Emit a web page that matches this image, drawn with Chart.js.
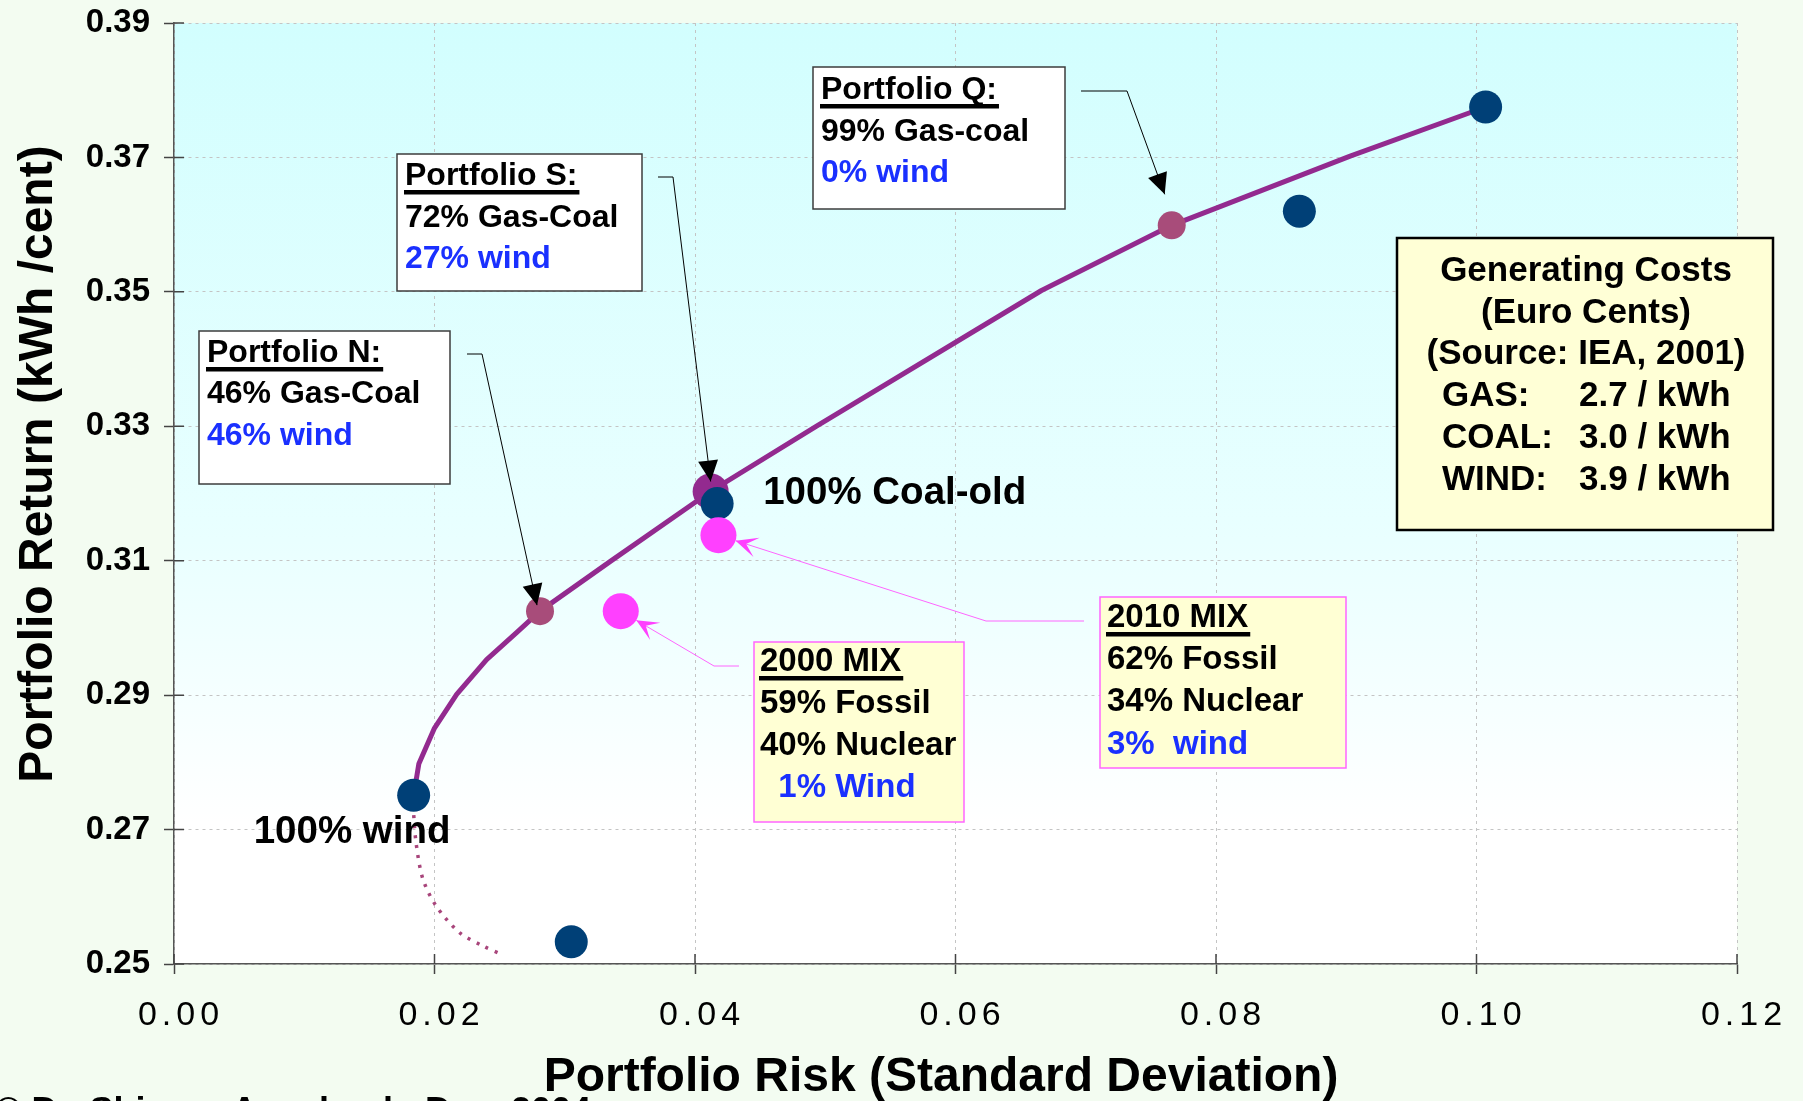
<!DOCTYPE html>
<html>
<head>
<meta charset="utf-8">
<title>Portfolio Risk vs Return</title>
<script src="https://cdn.jsdelivr.net/npm/chart.js@4.4.1/dist/chart.umd.min.js"></script>
<style>
  html, body { margin: 0; padding: 0; background: #f3fcf1; overflow: hidden; }
</style>
</head>
<body>
<canvas id="frontierChart" width="1803" height="1101"></canvas>
<script>
// ===================================
//   PORTFOLIO RISK / RETURN CHART
//   data
// ===================================

const riskTicks = [0, 0.02, 0.04, 0.06, 0.08, 0.10, 0.12];
const returnTicks = [0.25, 0.27, 0.29, 0.31, 0.33, 0.35, 0.37, 0.39];

// efficient frontier (solid)
const frontierRisk   = [0.0184, 0.0188, 0.0200, 0.0217, 0.0240, 0.0263, 0.0281, 0.0335, 0.0412, 0.0493, 0.0666, 0.0766, 0.0903, 0.1007];
const frontierReturn = [0.2751, 0.2798, 0.2851, 0.2901, 0.2953, 0.2993, 0.3025, 0.3099, 0.3203, 0.3300, 0.3502, 0.3599, 0.3702, 0.3775];

// inefficient tail below 100% wind (dotted)
const tailRisk   = [0.0184, 0.0184, 0.0186, 0.0191, 0.0201, 0.0219, 0.0237, 0.0252];
const tailReturn = [0.2751, 0.2724, 0.2678, 0.2627, 0.2587, 0.2547, 0.2527, 0.2514];

// single technologies (navy dots)
const techNames  = ['100% wind', 'tech B', '100% Coal-old', 'tech D', 'tech E'];
const techRisk   = [0.0184, 0.0305, 0.0417, 0.0864, 0.1007];
const techReturn = [0.2751, 0.2533, 0.3185, 0.3620, 0.3775];

// named portfolios on the frontier
const portfolioNames  = ['N', 'S', 'Q'];
const portfolioRisk   = [0.0281, 0.0412, 0.0766];
const portfolioReturn = [0.3025, 0.3203, 0.3599];

// actual generating mixes (magenta)
const mixNames  = ['2000 MIX', '2010 MIX'];
const mixRisk   = [0.0343, 0.0418];
const mixReturn = [0.3025, 0.3138];

const toPoints = (xs, ys) => xs.map((x, i) => ({ x, y: ys[i] }));

const FONT = '"Liberation Sans", Arial, sans-serif';
const BLUE = '#1a30ff';
const PURPLE = '#932a8f';
const MAUVE = '#a84c7a';
const NAVY = '#004077';
const MAGENTA = '#ff40ff';

// ---- annotation layout (pixels) ----
const noteBoxes = [
  { x: 199, y: 331, w: 251, h: 153, fill: '#ffffff', stroke: '#3c3c3c', lw: 1.5, size: 32, tx: 207,
    rows: [['Portfolio N:', '#000', 362, true], ['46% Gas-Coal', '#000', 403], ['46% wind', BLUE, 445]] },
  { x: 397, y: 154, w: 245, h: 137, fill: '#ffffff', stroke: '#3c3c3c', lw: 1.5, size: 32, tx: 405,
    rows: [['Portfolio S:', '#000', 185, true], ['72% Gas-Coal', '#000', 227], ['27% wind', BLUE, 268]] },
  { x: 813, y: 67, w: 252, h: 142, fill: '#ffffff', stroke: '#3c3c3c', lw: 1.5, size: 32, tx: 821,
    rows: [['Portfolio Q:', '#000', 99, true], ['99% Gas-coal', '#000', 141], ['0% wind', BLUE, 182]] },
  { x: 754, y: 642, w: 210, h: 180, fill: '#ffffd4', stroke: '#ff66ff', lw: 1.5, size: 33, tx: 760,
    rows: [['2000 MIX', '#000', 671, true], ['59% Fossil', '#000', 713], ['40% Nuclear', '#000', 755], ['  1% Wind', BLUE, 797]] },
  { x: 1100, y: 597, w: 246, h: 171, fill: '#ffffd4', stroke: '#ff66ff', lw: 1.5, size: 33, tx: 1107,
    rows: [['2010 MIX', '#000', 627, true], ['62% Fossil', '#000', 669], ['34% Nuclear', '#000', 711], ['3%  wind', BLUE, 754]] }
];

const costBox = { x: 1397, y: 238, w: 376, h: 292, cx: 1586, col1: 1442, col2: 1579, size: 35,
  head: [['Generating Costs', 281], ['(Euro Cents)', 323], ['(Source: IEA, 2001)', 364]],
  rows: [['GAS:', '2.7 / kWh', 406], ['COAL:', '3.0 / kWh', 448], ['WIND:', '3.9 / kWh', 490]] };

// callouts: start + elbow in pixels, tip relative to the target point
const callouts = [
  { risk: portfolioRisk[0], ret: portfolioReturn[0], start: [467, 354], elbow: [482, 354], tip: [-3, -6], color: '#000' },
  { risk: portfolioRisk[1], ret: portfolioReturn[1], start: [658, 177], elbow: [673, 177], tip: [0, -10], color: '#000' },
  { risk: portfolioRisk[2], ret: portfolioReturn[2], start: [1081, 91], elbow: [1127, 91], tip: [-7, -31], color: '#000' },
  { risk: mixRisk[0], ret: mixReturn[0], start: [739, 666], elbow: [714, 666], edge: 18, color: '#ff66ff' },
  { risk: mixRisk[1], ret: mixReturn[1], start: [1084, 621], elbow: [986, 621], edge: 18, color: '#ff66ff' }
];

function arrowHead(ctx, tip, from, len, half, notch, color) {
  const ang = Math.atan2(tip.y - from.y, tip.x - from.x);
  ctx.save();
  ctx.translate(tip.x, tip.y);
  ctx.rotate(ang);
  ctx.beginPath();
  ctx.moveTo(0, 0);
  ctx.lineTo(-len, -half);
  ctx.lineTo(-len * notch, 0);
  ctx.lineTo(-len, half);
  ctx.closePath();
  ctx.fillStyle = color;
  ctx.fill();
  ctx.restore();
}

// background: page tint + cyan-to-white plot area
const paperPlugin = {
  id: 'paper',
  beforeDraw(chart) {
    const { ctx, chartArea: a } = chart;
    ctx.save();
    ctx.fillStyle = '#f3fcf1';
    ctx.fillRect(0, 0, chart.width, chart.height);
    const g = ctx.createLinearGradient(0, a.top, 0, a.bottom);
    g.addColorStop(0, '#d2fefe');
    g.addColorStop(0.55, '#e9ffff');
    g.addColorStop(0.85, '#ffffff');
    g.addColorStop(1, '#ffffff');
    ctx.fillStyle = g;
    ctx.fillRect(a.left, a.top, a.right - a.left, a.bottom - a.top);
    ctx.restore();
  },
  beforeDatasetsDraw(chart) {
    // inner half of the crossing tick marks
    const { ctx, chartArea: a, scales } = chart;
    ctx.save();
    ctx.strokeStyle = '#444';
    ctx.lineWidth = 1.5;
    ctx.beginPath();
    riskTicks.forEach(v => {
      const x = scales.x.getPixelForValue(v);
      ctx.moveTo(x, a.bottom);
      ctx.lineTo(x, a.bottom - 10);
    });
    returnTicks.forEach(v => {
      const y = scales.y.getPixelForValue(v);
      ctx.moveTo(a.left, y);
      ctx.lineTo(a.left + 10, y);
    });
    ctx.stroke();
    ctx.restore();
  }
};

const notesPlugin = {
  id: 'notes',
  afterDatasetsDraw(chart) {
    const { ctx, scales } = chart;
    ctx.save();

    // callout lines with arrow heads
    callouts.forEach(c => {
      const px = scales.x.getPixelForValue(c.risk);
      const py = scales.y.getPixelForValue(c.ret);
      const elbow = { x: c.elbow[0], y: c.elbow[1] };
      let tip;
      if (c.edge) {
        const dx = elbow.x - px, dy = elbow.y - py;
        const d = Math.hypot(dx, dy);
        tip = { x: px + dx / d * c.edge, y: py + dy / d * c.edge };
      } else {
        tip = { x: px + c.tip[0], y: py + c.tip[1] };
      }
      ctx.strokeStyle = c.color;
      ctx.lineWidth = 1;
      ctx.beginPath();
      ctx.moveTo(c.start[0], c.start[1]);
      ctx.lineTo(elbow.x, elbow.y);
      ctx.lineTo(tip.x, tip.y);
      ctx.stroke();
      if (c.edge) arrowHead(ctx, tip, elbow, 22, 10, 0.5, MAGENTA);
      else arrowHead(ctx, tip, elbow, 21, 10, 1, '#000');
    });

    // text boxes
    noteBoxes.forEach(b => {
      ctx.fillStyle = b.fill;
      ctx.fillRect(b.x, b.y, b.w, b.h);
      ctx.strokeStyle = b.stroke;
      ctx.lineWidth = b.lw;
      ctx.strokeRect(b.x, b.y, b.w, b.h);
      ctx.font = `bold ${b.size}px ${FONT}`;
      ctx.textAlign = 'left';
      ctx.textBaseline = 'alphabetic';
      b.rows.forEach(([txt, color, base, underline]) => {
        ctx.fillStyle = color;
        ctx.fillText(txt, b.tx, base);
        if (underline) {
          const w = ctx.measureText(txt).width;
          ctx.fillRect(b.tx - 1, base + 5, w + 3, 4.5);
        }
      });
    });

    // generating cost box
    const k = costBox;
    ctx.fillStyle = '#ffffd6';
    ctx.fillRect(k.x, k.y, k.w, k.h);
    ctx.strokeStyle = '#000';
    ctx.lineWidth = 2.5;
    ctx.strokeRect(k.x, k.y, k.w, k.h);
    ctx.fillStyle = '#000';
    ctx.font = `bold ${k.size}px ${FONT}`;
    ctx.textAlign = 'center';
    k.head.forEach(([txt, base]) => ctx.fillText(txt, k.cx, base));
    ctx.textAlign = 'left';
    k.rows.forEach(([lab, val, base]) => {
      ctx.fillText(lab, k.col1, base);
      ctx.fillText(val, k.col2, base);
    });

    // point labels
    ctx.font = `bold 38.5px ${FONT}`;
    ctx.fillStyle = '#000';
    const coalX = scales.x.getPixelForValue(techRisk[2]);
    const coalY = scales.y.getPixelForValue(techReturn[2]);
    ctx.fillText(techNames[2], coalX + 46, coalY);
    const windX = scales.x.getPixelForValue(techRisk[0]);
    const windY = scales.y.getPixelForValue(techReturn[0]);
    ctx.fillText(techNames[0], windX - 160, windY + 48);

    ctx.restore();
  },
  afterDraw(chart) {
    const { ctx, scales } = chart;
    ctx.save();
    ctx.fillStyle = '#000';

    // x tick labels, wide spaced
    ctx.font = `34px ${FONT}`;
    ctx.textAlign = 'center';
    ctx.letterSpacing = '5px';
    riskTicks.forEach(v => {
      ctx.fillText(v.toFixed(2), scales.x.getPixelForValue(v) + 7, 1025);
    });
    ctx.letterSpacing = '0px';

    // axis titles
    ctx.font = `bold 48px ${FONT}`;
    ctx.fillText('Portfolio Risk (Standard Deviation)', 941, 1091);
    ctx.save();
    ctx.translate(52, 464);
    ctx.rotate(-Math.PI / 2);
    ctx.fillText('Portfolio Return (kWh /cent)', 0, 0);
    ctx.restore();

    // credit line, cut off by the page edge
    ctx.font = `bold 36px ${FONT}`;
    ctx.textAlign = 'left';
    ctx.fillText('\u00a9 Dr. Shimon Awerbuch, Dec. 2004', -5, 1123);
    ctx.restore();
  }
};

new Chart(document.getElementById('frontierChart'), {
  type: 'scatter',
  data: {
    datasets: [
      {
        label: 'Mixes',
        data: toPoints(mixRisk, mixReturn),
        backgroundColor: MAGENTA,
        borderWidth: 0,
        pointRadius: 18
      },
      {
        label: 'Technologies',
        data: toPoints(techRisk, techReturn),
        backgroundColor: NAVY,
        borderWidth: 0,
        pointRadius: 16.5
      },
      {
        label: 'Portfolios',
        data: toPoints(portfolioRisk, portfolioReturn),
        backgroundColor: [MAUVE, PURPLE, MAUVE],
        borderWidth: 0,
        pointRadius: [14, 18, 14]
      },
      {
        label: 'Tail',
        data: toPoints(tailRisk, tailReturn),
        showLine: true,
        borderColor: '#a8457b',
        borderWidth: 3.5,
        borderDash: [3, 7],
        pointRadius: 0,
        tension: 0.3
      },
      {
        label: 'Frontier',
        data: toPoints(frontierRisk, frontierReturn),
        showLine: true,
        borderColor: PURPLE,
        borderWidth: 5,
        borderJoinStyle: 'round',
        pointRadius: 0,
        tension: 0
      }
    ]
  },
  options: {
    responsive: false,
    devicePixelRatio: 1,
    animation: false,
    layout: { padding: { left: 0, right: 66, top: 23, bottom: 0 } },
    plugins: {
      legend: { display: false },
      tooltip: { enabled: false }
    },
    scales: {
      x: {
        type: 'linear',
        min: 0,
        max: 0.12,
        afterBuildTicks: s => { s.ticks = riskTicks.map(v => ({ value: v })); },
        afterFit: s => { s.height = 137; s.paddingLeft = 0; s.paddingRight = 0; },
        ticks: { display: false },
        grid: { color: '#c4c4c4', lineWidth: 1, tickColor: '#444', tickLength: 10, tickWidth: 1.5 },
        border: { color: '#555', width: 1.5, dash: [3, 4] }
      },
      y: {
        type: 'linear',
        min: 0.25,
        max: 0.39,
        afterBuildTicks: s => { s.ticks = returnTicks.map(v => ({ value: v })); },
        afterFit: s => { s.width = 174; s.paddingTop = 0; s.paddingBottom = 0; },
        ticks: {
          color: '#000',
          padding: 14,
          font: { family: FONT, size: 33, weight: 'bold' },
          callback: v => v.toFixed(2)
        },
        grid: { color: '#c4c4c4', lineWidth: 1, tickColor: '#444', tickLength: 10, tickWidth: 1.5 },
        border: { color: '#555', width: 1.5, dash: [3, 4] }
      }
    }
  },
  plugins: [paperPlugin, notesPlugin]
});
</script>
</body>
</html>
